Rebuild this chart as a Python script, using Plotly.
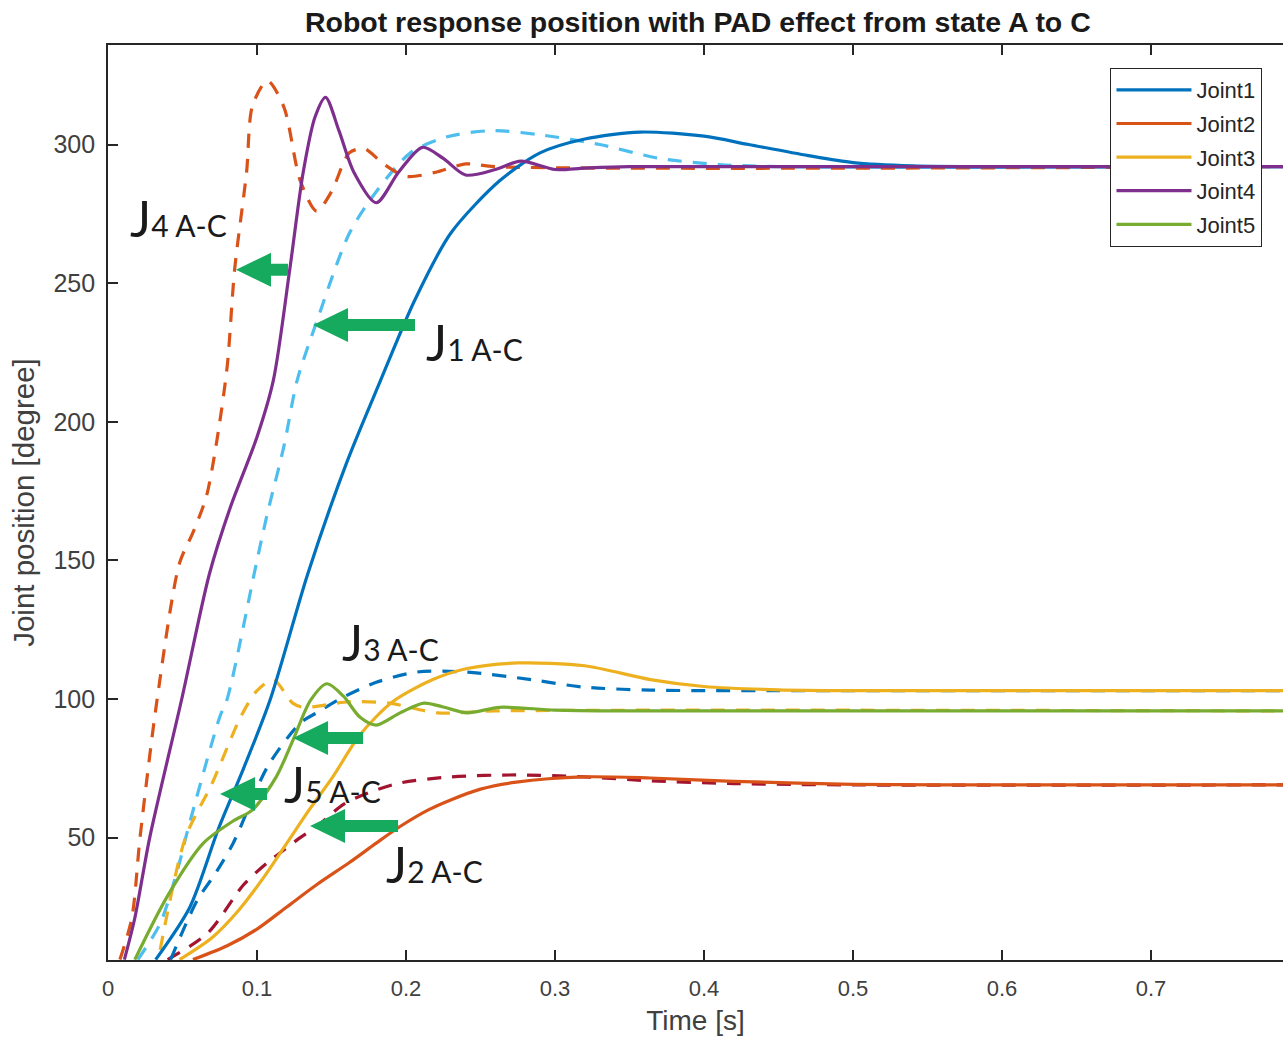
import plotly.graph_objects as go

# ---- solid lines: joint responses (s, degree) ----
j1_t = [0.032, 0.055, 0.074, 0.091, 0.109, 0.134, 0.160, 0.183, 0.206, 0.230, 0.263, 0.290, 0.320, 0.357, 0.400, 0.430, 0.470, 0.500, 0.540, 0.600, 0.700, 0.790]
j1_v = [6, 25, 53, 75, 100, 145, 185, 215, 244, 268, 287, 297, 302, 304.5, 303, 300, 296, 293.5, 292.3, 292, 292, 292]

j2_t = [0.057, 0.080, 0.100, 0.120, 0.140, 0.162, 0.180, 0.196, 0.215, 0.230, 0.250, 0.274, 0.319, 0.364, 0.420, 0.500, 0.600, 0.790]
j2_v = [6, 11, 17, 25, 33, 41, 48, 54, 60, 63.6, 67.5, 70, 71.9, 71.5, 70.3, 69.2, 69, 69]

j3_t = [0.048, 0.070, 0.088, 0.105, 0.120, 0.135, 0.151, 0.169, 0.191, 0.218, 0.241, 0.275, 0.320, 0.364, 0.400, 0.450, 0.500, 0.790]
j3_v = [6, 14, 24, 36, 48, 60, 72, 87, 99, 107, 111, 113, 112, 107, 104.5, 103.3, 103, 103]

j4_t = [0.011, 0.018, 0.028, 0.0495, 0.068, 0.082, 0.100, 0.111, 0.122, 0.131, 0.139, 0.146, 0.155, 0.165, 0.180, 0.195, 0.211, 0.225, 0.240, 0.260, 0.277, 0.300, 0.320, 0.350, 0.790]
j4_v = [6, 21, 50, 100, 145, 169, 194.5, 215, 255, 290, 310, 317, 305, 290, 279, 290, 299, 295, 289, 291, 294, 291, 291.5, 292, 292]

j5_t = [0.018, 0.040, 0.064, 0.084, 0.097, 0.113, 0.124, 0.136, 0.147, 0.158, 0.169, 0.180, 0.196, 0.212, 0.225, 0.241, 0.263, 0.300, 0.350, 0.790]
j5_v = [6, 29, 48, 56, 60, 72, 85, 99.6, 105.5, 101, 93.5, 90.6, 95, 98.5, 97.1, 95, 97, 96, 95.7, 95.7]

# ---- dashed lines: responses with PAD effect (A to C) ----
p1_t = [0.020, 0.035, 0.048, 0.053, 0.075, 0.080, 0.100, 0.107, 0.118, 0.127, 0.140, 0.162, 0.180, 0.203, 0.227, 0.257, 0.290, 0.330, 0.370, 0.410, 0.450, 0.790]
p1_v = [6, 19, 41, 51.7, 93.5, 100, 150, 167, 191, 215, 236, 268, 283, 297, 302.7, 305, 303.5, 300, 295, 292.8, 292, 292]

p2_t = [0.040, 0.067, 0.091, 0.107, 0.118, 0.129, 0.140, 0.158, 0.174, 0.196, 0.230, 0.274, 0.319, 0.364, 0.420, 0.500, 0.790]
p2_v = [6, 15.6, 33, 41, 45.5, 50, 54, 62, 66, 69.7, 71.9, 72.6, 71.9, 70.5, 69.5, 69, 69]

p3_t = [0.042, 0.060, 0.072, 0.084, 0.107, 0.129, 0.140, 0.158, 0.180, 0.207, 0.241, 0.285, 0.319, 0.364, 0.450, 0.790]
p3_v = [6, 27.5, 37, 48, 75.5, 91.3, 95, 100.7, 106, 109.7, 109.7, 106.9, 104.3, 103.2, 103, 103]

p4_t = [0.008, 0.016, 0.0215, 0.033, 0.048, 0.057, 0.066, 0.073, 0.080, 0.085, 0.093, 0.097, 0.107, 0.118, 0.129, 0.140, 0.150, 0.162, 0.172, 0.185, 0.200, 0.220, 0.240, 0.260, 0.790]
p4_v = [6, 21, 50, 100, 149, 160, 173, 193, 220, 255, 290, 314, 323, 313.6, 287, 276, 283, 297, 298.5, 293, 288.5, 290, 293, 292, 292]

p5_t = [0.035, 0.052, 0.070, 0.089, 0.100, 0.111, 0.124, 0.131, 0.162, 0.189, 0.221, 0.260, 0.790]
p5_v = [9.5, 50, 69.7, 93.5, 103, 106.9, 98.5, 97, 99, 98.5, 95, 95.7, 95.7]

joint_names = ["Joint1", "Joint2", "Joint3", "Joint4", "Joint5"]
joint_colors = ["#0072BD", "#D95319", "#EDB120", "#7E2F8E", "#77AC30"]
pad_colors = ["#4DBEEE", "#A2142F", "#0072BD", "#D95319", "#EDB120"]

solid = [(j1_t, j1_v), (j2_t, j2_v), (j3_t, j3_v), (j4_t, j4_v), (j5_t, j5_v)]
dashed = [(p1_t, p1_v), (p2_t, p2_v), (p3_t, p3_v), (p4_t, p4_v), (p5_t, p5_v)]

# annotation labels: (subscript text, left x, centre y)
labels = [("4 A-C", 0.0134, 273.5), ("1 A-C", 0.2120, 228.8), ("3 A-C", 0.156, 120.6),
          ("5 A-C", 0.1165, 69.3), ("2 A-C", 0.1850, 40.5)]
# arrows: (tip t, tip value, total length px)
arrows = [(0.0859, 254.8, 52), (0.1376, 234.9, 102), (0.1242, 85.9, 70),
          (0.0752, 65.7, 47), (0.1356, 54.2, 88)]

AX = "#262626"
FONT = "Liberation Sans, Arial, sans-serif"
GREEN = "#15AA5E"

fig = go.Figure()

for (t, v), c in zip(dashed, pad_colors):
    fig.add_trace(go.Scatter(x=t, y=v, mode="lines", showlegend=False, hoverinfo="skip",
                             line=dict(color=c, width=3.2, dash="14px,11px", shape="spline", smoothing=0.8)))

for (t, v), c, n in zip(solid, joint_colors, joint_names):
    fig.add_trace(go.Scatter(x=t, y=v, mode="lines", name=n, legendgroup=n,
                             line=dict(color=c, width=3.2, shape="spline", smoothing=0.8)))

shapes = []
H, HH, S = 35, 17, 6
for tt, vv, L in arrows:
    path = f"M0,0 L{H},{HH} L{H},{S} L{L},{S} L{L},{-S} L{H},{-S} L{H},{-HH} Z"
    shapes.append(dict(type="path", xref="x", yref="y", xsizemode="pixel", ysizemode="pixel",
                       xanchor=tt, yanchor=vv, path=path, fillcolor=GREEN,
                       line=dict(width=0)))

annotations = []
for sub, lx, ly in labels:
    annotations.append(dict(x=lx, y=ly, xref="x", yref="y", xanchor="left", yanchor="middle",
                            showarrow=False,
                            text=f"J<span style='font-size:30px'>{sub}</span>",
                            font=dict(family="Lato, sans-serif", size=50, color="#1a1a1a")))

fig.update_layout(
    width=1283, height=1044,
    margin=dict(l=108, r=0, t=45, b=84),
    paper_bgcolor="white", plot_bgcolor="white",
    title=dict(text="Robot response position with PAD effect from state A to C",
               x=0.502, xref="paper", xanchor="center", y=1 - 22 / 1044, yanchor="middle",
               font=dict(family=FONT, size=28.5, color="#1a1a1a", weight="bold")),
    xaxis=dict(range=[0, 0.7886], tickvals=[0, 0.1, 0.2, 0.3, 0.4, 0.5, 0.6, 0.7],
               ticktext=["0", "0.1", "0.2", "0.3", "0.4", "0.5", "0.6", "0.7"],
               ticks="inside", ticklen=10, tickwidth=1.5, tickcolor=AX,
               showline=True, linecolor=AX, linewidth=1.6, mirror="ticks",
               showgrid=False, zeroline=False, ticklabelstandoff=8,
               tickfont=dict(family=FONT, size=22, color="#404040"),
               title=dict(text="Time [s]", standoff=10, font=dict(family=FONT, size=28, color="#404040"))),
    yaxis=dict(range=[5.85, 335.9], tickvals=[50, 100, 150, 200, 250, 300],
               ticks="inside", ticklen=10, tickwidth=1.5, tickcolor=AX,
               showline=True, linecolor=AX, linewidth=1.6, mirror=False,
               showgrid=False, zeroline=False, ticklabelstandoff=6,
               tickfont=dict(family=FONT, size=25, color="#404040"),
               title=dict(text="Joint position [degree]", standoff=10,
                          font=dict(family=FONT, size=29.5, color="#404040"))),
    legend=dict(x=0.853, y=0.975, xanchor="left", yanchor="top", bgcolor="white",
                bordercolor=AX, borderwidth=1.2, traceorder="grouped", tracegroupgap=2,
                itemwidth=75,
                font=dict(family=FONT, size=22, color="#262626")),
    shapes=shapes,
    annotations=annotations,
)

fig.write_html("out.html")
